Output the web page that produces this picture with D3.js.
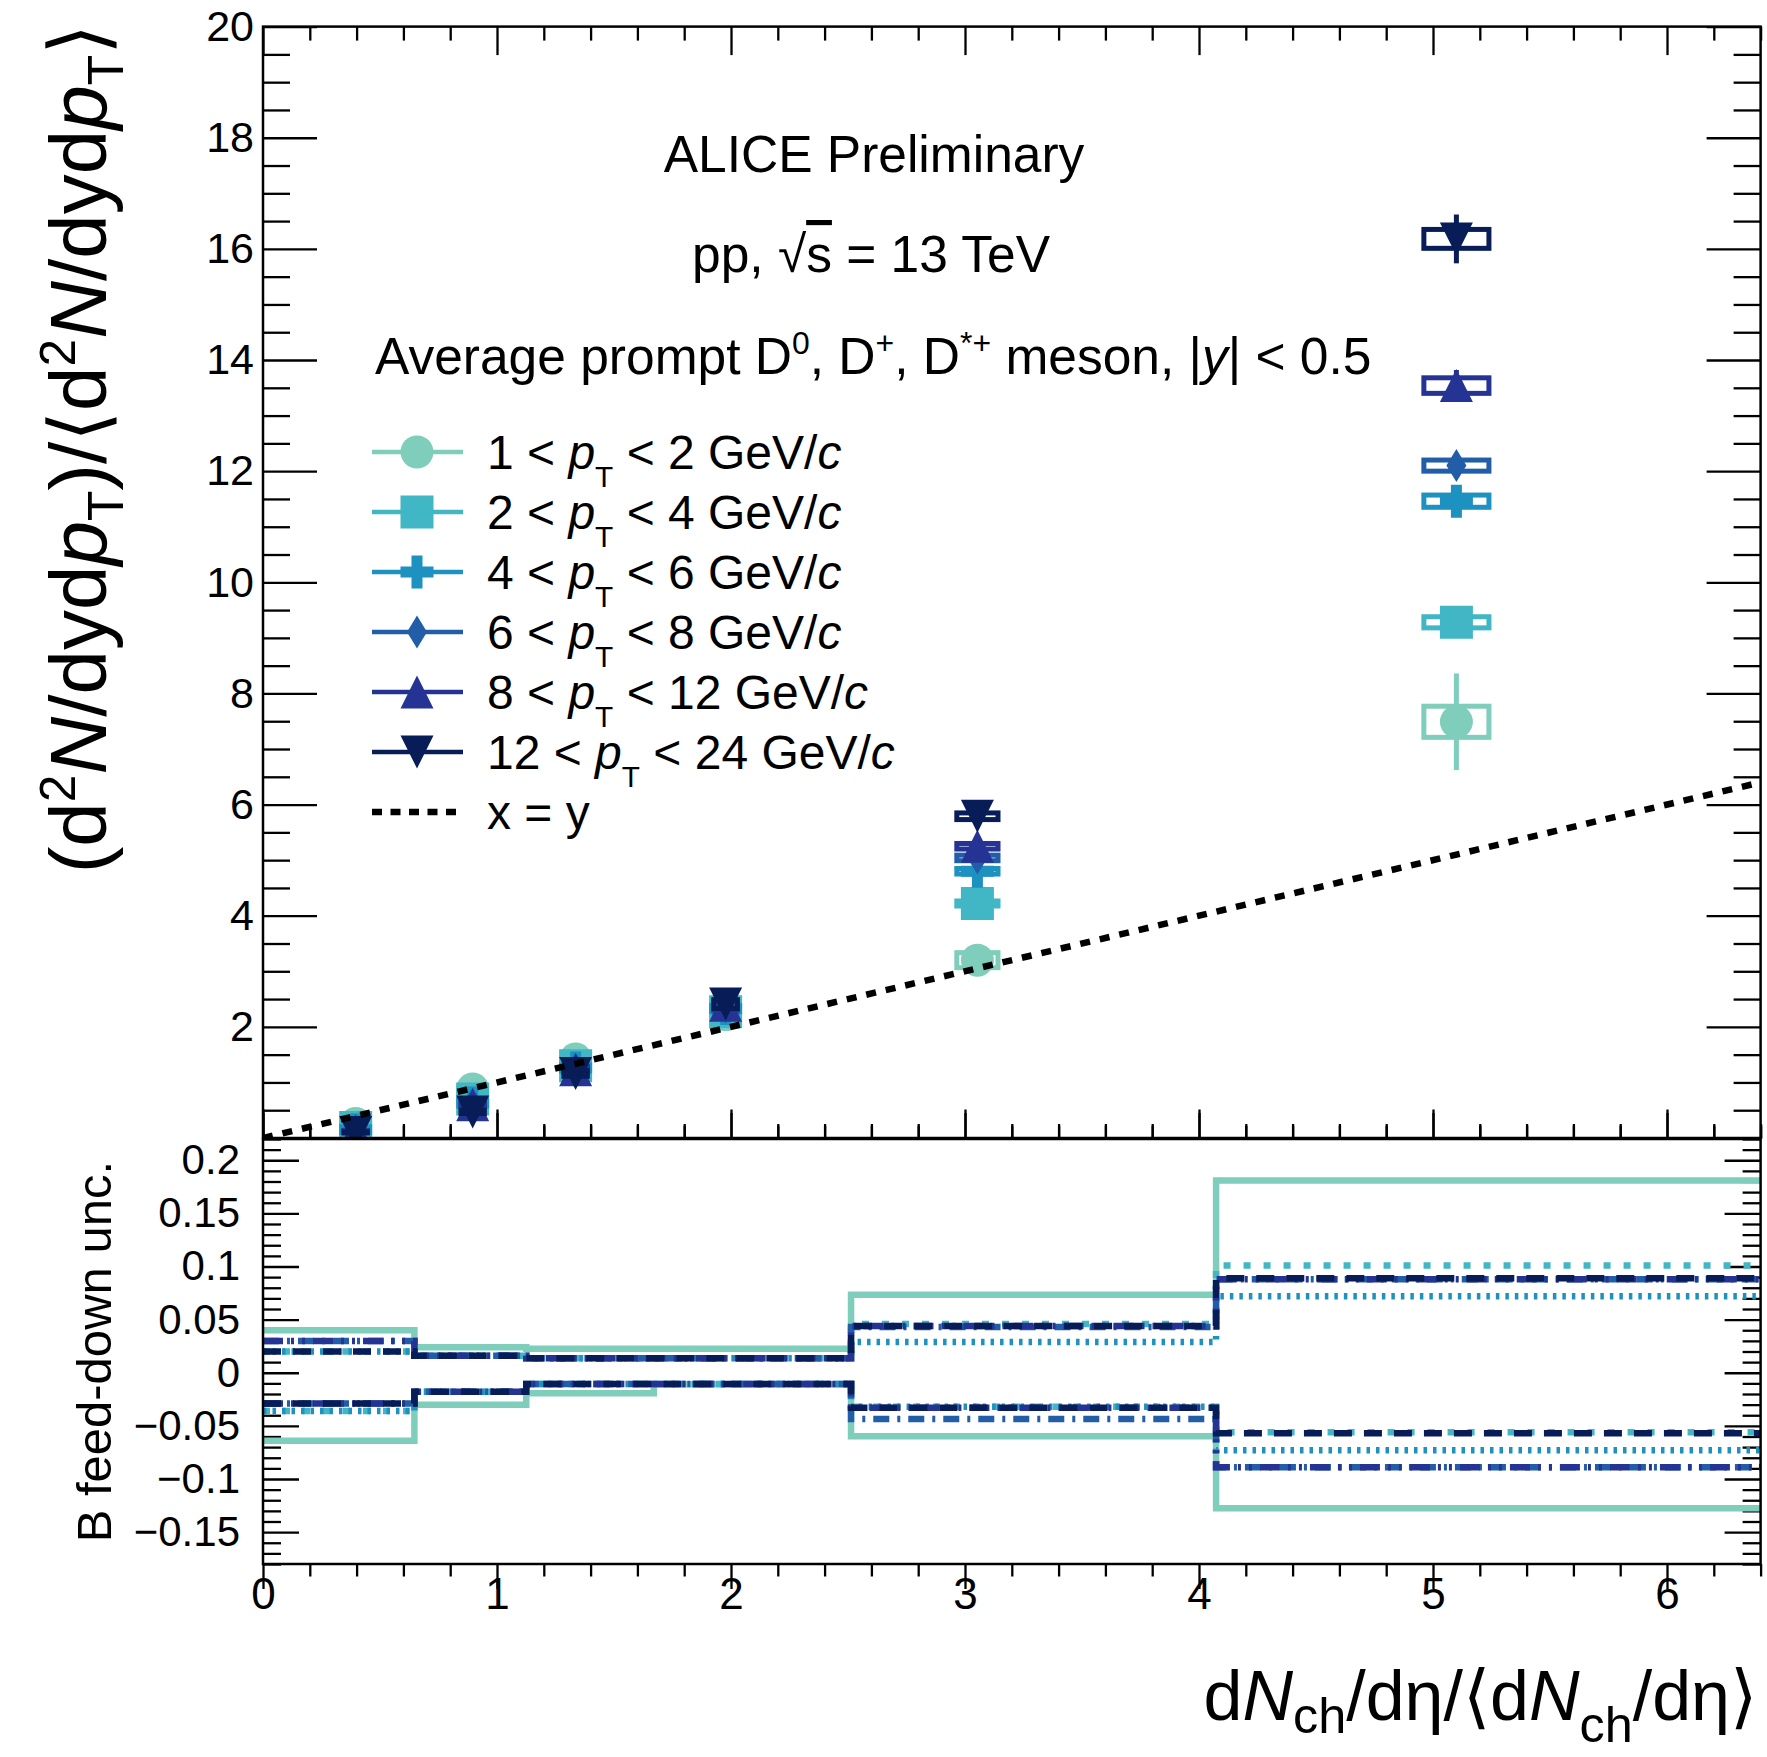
<!DOCTYPE html>
<html lang="en">
<head>
<meta charset="utf-8">
<title>D-meson yields vs multiplicity</title>
<script src="https://cdn.jsdelivr.net/npm/d3@7"></script>
<style>
  body { margin: 0; background: #fff; }
  text { fill: #000; }
</style>
</head>
<body>
<svg width="1767" height="1757"></svg>
<script>
var FONT = '"Liberation Sans", Arial, Helvetica, sans-serif';

// ---------- data ----------
var ptLow  = [1, 2, 4, 6, 8, 12];
var ptHigh = [2, 4, 6, 8, 12, 24];

// multiplicity classes, x = dNch/deta / <dNch/deta>
var multX    = [0.396, 0.896, 1.336, 1.977, 3.053, 5.10];
var multXErr = [0.05, 0.05, 0.05, 0.05, 0.088, 0.139];

// self-normalised yields, one row per pT interval
var ratio = [
  [0.26, 0.88, 1.42, 2.22, 3.20, 7.49],
  [0.19, 0.70, 1.30, 2.27, 4.22, 9.28],
  [0.15, 0.63, 1.26, 2.33, 4.80, 11.46],
  [0.13, 0.61, 1.24, 2.36, 5.04, 12.10],
  [0.12, 0.60, 1.23, 2.39, 5.25, 13.54],
  [0.10, 0.47, 1.16, 2.41, 5.79, 16.18]
];
var statErr = [
  [0.02, 0.04, 0.05, 0.08, 0.12, 0.87],
  [0.01, 0.02, 0.03, 0.04, 0.06, 0.15],
  [0.01, 0.02, 0.03, 0.05, 0.08, 0.20],
  [0.01, 0.03, 0.04, 0.06, 0.10, 0.22],
  [0.01, 0.03, 0.05, 0.08, 0.12, 0.28],
  [0.02, 0.04, 0.07, 0.10, 0.18, 0.44]
];
var systErr = [
  [0.01, 0.03, 0.05, 0.07, 0.135, 0.28],
  [0.01, 0.03, 0.05, 0.08, 0.045, 0.10],
  [0.01, 0.03, 0.05, 0.08, 0.05, 0.11],
  [0.01, 0.03, 0.05, 0.08, 0.05, 0.10],
  [0.01, 0.03, 0.05, 0.08, 0.05, 0.14],
  [0.01, 0.03, 0.05, 0.08, 0.06, 0.17]
];

// B feed-down uncertainty, histogram bins
var fdEdges = [0, 0.647, 1.125, 1.67, 2.513, 4.073, 6.6];
var fdUp = [
  [0.040, 0.024, 0.0225, 0.0225, 0.0735, 0.181],
  [0.020, 0.016, 0.0137, 0.0137, 0.046, 0.101],
  [0.020, 0.016, 0.0137, 0.0137, 0.029, 0.072],
  [0.030, 0.016, 0.0137, 0.0137, 0.043, 0.088],
  [0.030, 0.016, 0.0137, 0.0137, 0.044, 0.088],
  [0.020, 0.016, 0.0137, 0.0137, 0.044, 0.089]
];
var fdLow = [
  [-0.064, -0.030, -0.0194, -0.0108, -0.0598, -0.1276],
  [-0.036, -0.0178, -0.0105, -0.0105, -0.032, -0.056],
  [-0.036, -0.0178, -0.0105, -0.0105, -0.032, -0.073],
  [-0.029, -0.0178, -0.0105, -0.0105, -0.0435, -0.089],
  [-0.029, -0.0178, -0.0105, -0.0105, -0.033, -0.089],
  [-0.029, -0.0178, -0.0105, -0.0105, -0.033, -0.057]
];

var yTickTop = [2, 4, 6, 8, 10, 12, 14, 16, 18, 20];
var yTickBot = [-0.15, -0.1, -0.05, 0, 0.05, 0.1, 0.15, 0.2];
var xTicks   = [0, 1, 2, 3, 4, 5, 6];

// ---------- styles ----------
var colors  = ["#7fcdbb", "#41b6c4", "#1d91c0", "#225ea8", "#253494", "#081d58"];
var markers = ["circle", "square", "cross", "diamond", "up", "down"];
var fdDash  = [null, "7 13", "3.5 6", "16 8 3 8", "20 8 3 8 3 8", "18 12"];

var svg = d3.select("svg");

// ---------- scales ----------
var x    = d3.scaleLinear().domain([0, 6.4]).range([263, 1760.6]);
var yTop = d3.scaleLinear().domain([0, 20]).range([1138, 26.6]);
var yBot = d3.scaleLinear().domain([-0.18, 0.22]).range([1564, 1139]);

var defs = svg.append("defs");
defs.append("clipPath").attr("id", "clipTop").append("rect")
    .attr("x", x(0)).attr("y", yTop(20)).attr("width", x(6.4) - x(0)).attr("height", yTop(0) - yTop(20));
defs.append("clipPath").attr("id", "clipBot").append("rect")
    .attr("x", x(0)).attr("y", yBot(0.22)).attr("width", x(6.4) - x(0)).attr("height", yBot(-0.18) - yBot(0.22));

// ---------- helpers ----------
function markerPath(kind) {
  var h = 16.5;
  if (kind == "square") return "M" + (-h) + "," + (-h) + "h33v33h-33Z";
  if (kind == "cross") {
    var a = 5.5;
    return "M" + (-a) + "," + (-h) + "H" + a + "V" + (-a) + "H" + h + "V" + a + "H" + a + "V" + h +
           "H" + (-a) + "V" + a + "H" + (-h) + "V" + (-a) + "H" + (-a) + "Z";
  }
  if (kind == "diamond") return "M0," + (-h) + "L10,0L0," + h + "L-10,0Z";
  if (kind == "up") return "M0," + (-h) + "L" + h + "," + h + "L" + (-h) + "," + h + "Z";
  if (kind == "down") return "M0," + h + "L" + h + "," + (-h) + "L" + (-h) + "," + (-h) + "Z";
  return d3.path().toString();
}
function drawMarker(g, kind, cx, cy, col) {
  if (kind == "circle") {
    g.append("circle").attr("cx", cx).attr("cy", cy).attr("r", 16.5).attr("fill", col);
  } else {
    g.append("path").attr("d", markerPath(kind)).attr("transform", "translate(" + cx + "," + cy + ")").attr("fill", col);
  }
}
// parts: [text, style] ; style: "i" italic, "sub", "sup", "over"
function rich(t, parts, F, subShift, supShift) {
  var cur = 0;
  parts.forEach(function(p) {
    var ts = t.append("tspan").text(p[0]);
    var s = p[1] || "";
    var shift = 0;
    if (s.indexOf("i") >= 0) ts.attr("font-style", "italic");
    if (s.indexOf("sub") >= 0) { shift = subShift; ts.attr("font-size", F * 0.62); }
    if (s.indexOf("sup") >= 0) { shift = -supShift; ts.attr("font-size", F * 0.62); }
    if (s.indexOf("over") >= 0) ts.style("text-decoration", "overline");
    if (shift != cur) { ts.attr("dy", shift - cur); cur = shift; }
  });
}

function axis(gen, scale, tr, vals, len, fmt, pad, fs) {
  var a = gen(scale).tickValues(vals).tickSizeInner(-len).tickSizeOuter(0)
      .tickPadding(pad).tickFormat(fmt || function() { return ""; });
  var g = svg.append("g").attr("transform", tr).call(a);
  g.select(".domain").remove();
  g.attr("font-family", FONT).attr("font-size", fs || 41);
  g.selectAll("line").attr("stroke", "#000").attr("stroke-width", 2.3);
  g.selectAll("text").attr("fill", "#000");
  return g;
}

var majorX = xTicks;
var minorX = d3.range(0, 33).map(function(i) { return i * 0.2; })
    .filter(function(v) { return v <= 6.4 && Math.abs(v - Math.round(v)) > 1e-6; });
var majorYTop = [0].concat(yTickTop);
var minorYTop = d3.range(0, 41).map(function(i) { return i * 0.5; })
    .filter(function(v) { return v % 2 != 0; });
var minorYBot = d3.range(-18, 23).filter(function(i) { return i % 5 != 0; })
    .map(function(i) { return i / 100; });

// ---------- top panel ticks ----------
axis(d3.axisLeft, yTop, "translate(" + x(0) + ",0)", majorYTop, 54,
     function(d) { return d == 0 ? "" : d; }, 9, 43);
axis(d3.axisLeft, yTop, "translate(" + x(0) + ",0)", minorYTop, 27);
axis(d3.axisRight, yTop, "translate(" + x(6.4) + ",0)", majorYTop, 54);
axis(d3.axisRight, yTop, "translate(" + x(6.4) + ",0)", minorYTop, 27);
axis(d3.axisTop, x, "translate(0," + yTop(20) + ")", majorX, 28.5);
axis(d3.axisTop, x, "translate(0," + yTop(20) + ")", minorX, 14);
axis(d3.axisBottom, x, "translate(0," + yTop(0) + ")", majorX, 28.5);
axis(d3.axisBottom, x, "translate(0," + yTop(0) + ")", minorX, 14);

// ---------- bottom panel ticks ----------
axis(d3.axisLeft, yBot, "translate(" + x(0) + ",0)", yTickBot, 36,
     function(d) { return d == 0 ? "0" : (d < 0 ? "\u2212" : "") + Math.abs(d); }, 23, 42);
axis(d3.axisLeft, yBot, "translate(" + x(0) + ",0)", minorYBot, 18);
axis(d3.axisRight, yBot, "translate(" + x(6.4) + ",0)", yTickBot, 36);
axis(d3.axisRight, yBot, "translate(" + x(6.4) + ",0)", minorYBot, 18);
axis(d3.axisTop, x, "translate(0," + yBot(-0.18) + ")", majorX, 25);
axis(d3.axisTop, x, "translate(0," + yBot(-0.18) + ")", minorX, 12.5);
axis(d3.axisBottom, x, "translate(0," + yBot(0.22) + ")", majorX, 26);
axis(d3.axisBottom, x, "translate(0," + yBot(0.22) + ")", minorX, 13);
// x labels
axis(d3.axisBottom, x, "translate(0," + yBot(-0.18) + ")", majorX, 0, function(d) { return d; }, 14, 44)
    .selectAll("line").remove();

// ---------- top panel data ----------
var gTop = svg.append("g").attr("clip-path", "url(#clipTop)");
ratio.forEach(function(row, s) {
  var col = colors[s];
  row.forEach(function(v, j) {
    var mx = multX[j], xe = multXErr[j], se = systErr[s][j], st = statErr[s][j];
    gTop.append("rect")
        .attr("x", x(mx - xe)).attr("width", x(mx + xe) - x(mx - xe))
        .attr("y", yTop(v + se)).attr("height", yTop(v - se) - yTop(v + se))
        .attr("fill", "none").attr("stroke", col).attr("stroke-width", 5);
    gTop.append("line")
        .attr("x1", x(mx)).attr("x2", x(mx))
        .attr("y1", yTop(v - st)).attr("y2", yTop(v + st))
        .attr("stroke", col).attr("stroke-width", 5);
    drawMarker(gTop, markers[s], x(mx), yTop(v), col);
  });
});
// x = y reference
gTop.append("path")
    .datum(x.domain())
    .attr("d", d3.line().x(function(d) { return x(d); }).y(function(d) { return yTop(d); }))
    .attr("stroke", "#000").attr("stroke-width", 6.5).attr("stroke-dasharray", "10 10").attr("fill", "none");

// ---------- bottom panel data ----------
var gBot = svg.append("g").attr("clip-path", "url(#clipBot)");
var step = d3.line().x(function(d) { return x(d[0]); }).y(function(d) { return yBot(d[1]); }).curve(d3.curveStepAfter);
function stepPts(vals) {
  return fdEdges.map(function(e, i) { return [e, vals[Math.min(i, vals.length - 1)]]; });
}
[0, 1, 2, 3, 4, 5].forEach(function(s) {
  [fdUp[s], fdLow[s]].forEach(function(vals) {
    gBot.append("path").attr("d", step(stepPts(vals)))
        .attr("fill", "none").attr("stroke", colors[s]).attr("stroke-width", 6.5)
        .attr("stroke-dasharray", fdDash[s]);
  });
});

// ---------- frames ----------
svg.append("rect").attr("x", x(0)).attr("y", yTop(20)).attr("width", x(6.4) - x(0)).attr("height", yTop(0) - yTop(20))
    .attr("fill", "none").attr("stroke", "#000").attr("stroke-width", 2.5);
svg.append("rect").attr("x", x(0)).attr("y", yBot(0.22)).attr("width", x(6.4) - x(0)).attr("height", yBot(-0.18) - yBot(0.22))
    .attr("fill", "none").attr("stroke", "#000").attr("stroke-width", 2.5);

// ---------- texts ----------
var F = 51.5;
svg.append("text").attr("x", 874).attr("y", 172).attr("text-anchor", "middle")
    .attr("font-family", FONT).attr("font-size", F).text("ALICE Preliminary");
rich(svg.append("text").attr("x", 871).attr("y", 272).attr("text-anchor", "middle")
    .attr("font-family", FONT).attr("font-size", F),
    [["pp,  \u221A"], ["s", "over"], [" = 13 TeV"]], F, 0, 0);
rich(svg.append("text").attr("x", 375).attr("y", 374)
    .attr("font-family", FONT).attr("font-size", F),
    [["Average prompt D"], ["0", "sup"], [", D"], ["+", "sup"], [", D"], ["*+", "sup"],
     [" meson, |"], ["y", "i"], ["| < 0.5"]], F, 0, 20);

// legend
var FL = 48;
ptLow.forEach(function(lo, s) {
  var ly = 452 + 60 * s;
  svg.append("line").attr("x1", 372).attr("x2", 463).attr("y1", ly).attr("y2", ly)
      .attr("stroke", colors[s]).attr("stroke-width", 4.5);
  drawMarker(svg, markers[s], 417, ly, colors[s]);
  rich(svg.append("text").attr("x", 487).attr("y", ly + 17)
      .attr("font-family", FONT).attr("font-size", FL),
      [[lo + " < "], ["p", "i"], ["T", "sub"], [" < " + ptHigh[s] + " GeV/"], ["c", "i"]], FL, 18, 0);
});
var lyy = 452 + 60 * 6;
svg.append("line").attr("x1", 372).attr("x2", 463).attr("y1", lyy).attr("y2", lyy)
    .attr("stroke", "#000").attr("stroke-width", 6.5).attr("stroke-dasharray", "10 8.5");
svg.append("text").attr("x", 487).attr("y", lyy + 17).attr("font-family", FONT).attr("font-size", FL).text("x = y");

// axis titles
var FT = 80;
rich(svg.append("text").attr("transform", "translate(106,24) rotate(-90)").attr("text-anchor", "end")
    .attr("font-family", FONT).attr("font-size", FT),
    [["(d"], ["2", "sup"], ["N", "i"], ["/dyd"], ["p", "i"], ["T", "sub"], [")/\u27E8d"], ["2", "sup"],
     ["N", "i"], ["/dyd"], ["p", "i"], ["T", "sub"], ["\u27E9"]], FT, 17, 31);
svg.append("text").attr("transform", "translate(111,1161) rotate(-90)").attr("text-anchor", "end")
    .attr("font-family", FONT).attr("font-size", 49).text("B feed-down unc.");
var FX = 70;
var xt = svg.append("text").attr("x", 1757).attr("y", 1720).attr("text-anchor", "end")
    .attr("font-family", FONT).attr("font-size", FX);
xt.append("tspan").text("d");
xt.append("tspan").attr("font-style", "italic").text("N");
xt.append("tspan").attr("font-size", FX * 0.72).attr("dy", 13).text("ch");
xt.append("tspan").attr("dy", -13).text("/d\u03B7/\u27E8d");
xt.append("tspan").attr("font-style", "italic").text("N");
xt.append("tspan").attr("font-size", FX * 0.72).attr("dy", 22).text("ch");
xt.append("tspan").attr("dy", -22).text("/d\u03B7\u27E9");
</script>
</body>
</html>
